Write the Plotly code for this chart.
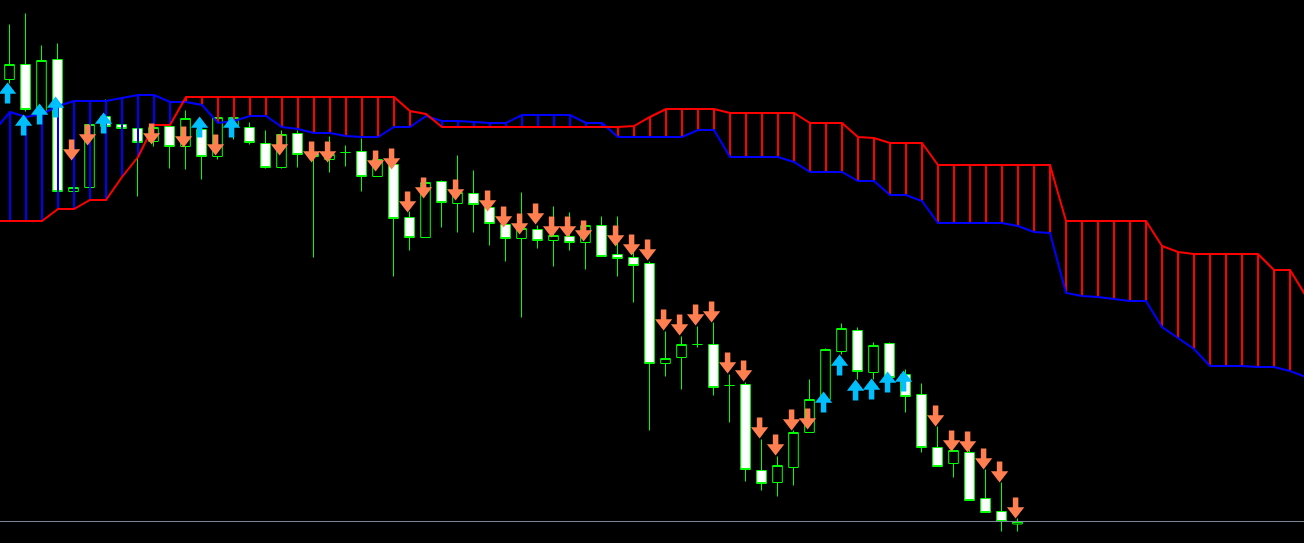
import plotly.graph_objects as go

# ---------------- data (price in points) ----------------
candle_idx = list(range(64))
open_ = [463, 478, 431, 483, 351, 355, 426, 418, 414, 401, 416, 396, 413, 386, 416, 415,
         399, 375, 409, 389, 383, 390, 391, 366, 378, 325, 305, 361, 339, 349, 335, 318,
         304, 313, 302, 306, 300, 317, 288, 285, 279, 179, 185, 198, 198, 157, 158, 72,
         60, 75, 110, 143, 191, 212, 170, 199, 168, 148, 95, 79, 90, 44, 31, 18.5]
high = [518, 529, 497, 499, 357, 419, 443, 418, 414, 416, 417, 432, 417, 427, 427, 420,
        412, 412, 412, 398, 406, 397, 404, 388, 383, 331, 364, 362, 387, 372, 336, 321,
        350, 317, 336, 330, 321, 326, 326, 293, 281, 211, 206, 216, 220, 168, 160, 103,
        86, 112, 163, 194, 219, 215, 200, 200, 173, 159, 116, 92, 93, 73, 60, 24]
low = [459, 431, 427, 350, 350, 354, 415, 414, 346, 396, 374, 373, 363, 383, 403, 398,
       374, 374, 375, 285, 370, 376, 351, 366, 266, 292, 305, 315, 310, 310, 297, 281,
       225, 294, 276, 292, 273, 286, 266, 240, 112, 166, 153, 195, 147, 120, 61, 52,
       46, 57, 110, 138, 188, 163, 163, 163, 130, 90, 76, 65, 42, 30, 11, 11]
close = [478, 433, 482, 351, 355, 418, 416, 414, 400, 415, 396, 424, 386, 425, 425, 400,
         375, 408, 388, 386, 388, 390, 366, 383, 324, 305, 360, 340, 350, 338, 319, 304,
         314, 302, 307, 300, 317, 286, 284, 277, 179, 184, 198, 198, 155, 157, 73, 59,
         77, 110, 143, 193, 214, 171, 197, 165, 146, 95, 76, 92, 42, 30, 21, 21]

# Ichimoku cloud spans (shifted 26 bars ahead)
cloud_idx = list(range(-1, 82))
span_red = [321, 321, 321, 321, 333, 333, 342, 342, 365, 385, 417, 417, 445,
            445, 445, 445, 445, 445, 445, 445, 445, 445, 445, 445, 445, 445,
            431, 428, 415,
            415, 415, 415, 415, 415, 415, 415, 415, 415, 415, 415,
            416, 425, 433, 433, 433, 433,
            429, 429, 429, 429, 429,
            419, 419, 419,
            405, 404, 399, 399, 399,
            377,
            377, 377, 377, 377, 377, 377, 377,
            321,
            321, 321, 321, 321, 321,
            296, 290, 288,
            288, 288, 288, 288,
            272, 272, 246]
span_blue = [411, 430, 425, 428, 436, 441, 441, 441, 444, 447, 447, 440, 440,
             437, 419, 421, 426, 426, 415, 413, 409, 409, 406, 405, 405, 415,
             415, 426, 421, 421, 420, 419, 419, 427, 427, 427, 427, 419, 419,
             405, 405, 405, 405, 405, 412, 412, 385, 385, 385, 385, 380, 370,
             370, 370, 361, 361, 347, 347, 341, 319, 319, 319, 319, 319, 316,
             310, 309, 249, 246, 245, 243, 241, 241, 215, 204, 193, 176, 176,
             176, 175, 175, 171, 165]

# Signal arrows (tip price)
sell_idx = [4, 5, 9, 11, 13, 17, 19, 20, 23, 24, 25, 26, 28, 30, 31, 32, 33, 34, 35, 36,
            38, 39, 40, 41, 42, 43, 44, 45, 46, 47, 48, 49, 50, 58, 59, 60, 61, 62, 63]
sell_tip = [382, 397, 398, 395, 387, 387, 380, 380, 371, 373, 330, 344, 342, 331, 315, 308,
            318, 305, 305, 301, 296, 287, 282, 212, 207, 217, 220, 169, 161, 104, 87, 112,
            113, 116, 91, 90, 73, 60, 24]
buy_idx = [0, 1, 2, 3, 6, 12, 14, 51, 52, 53, 54, 55, 56]
buy_tip = [460, 428, 439, 446, 430, 426, 426, 151, 188, 163, 164, 171, 172]

bid_price = 21

# ---------------- styling ----------------
GREEN = "#00FF00"
CORAL = "#FF7F50"
SKY = "#00BFFF"
ARROW_DX = -0.12
HEAD_OFF, SHAFT_OFF = 7.5, 14
LINE_DX, LINE_DY = 1 / 32, 0.5   # half-pixel nudges so 2px lines render crisply

fig = go.Figure()

fig.add_trace(go.Candlestick(
    x=candle_idx, open=open_, high=high, low=low, close=close,
    increasing=dict(line=dict(color=GREEN, width=1), fillcolor="black"),
    decreasing=dict(line=dict(color=GREEN, width=1), fillcolor="white"),
    hoverinfo="skip", showlegend=False))

# cloud hatch
hx_b, hy_b, hx_r, hy_r = [], [], [], []
for k, a, b in zip(cloud_idx, span_blue, span_red):
    xk = k + LINE_DX
    if a >= b:
        hx_b += [xk, xk, None]; hy_b += [a + LINE_DY, b + LINE_DY, None]
    else:
        hx_r += [xk, xk, None]; hy_r += [a + LINE_DY, b + LINE_DY, None]
fig.add_trace(go.Scatter(x=hx_b, y=hy_b, mode="lines", line=dict(color="#0000FF", width=2),
                         hoverinfo="skip", showlegend=False))
fig.add_trace(go.Scatter(x=hx_r, y=hy_r, mode="lines", line=dict(color="#FF0000", width=2),
                         hoverinfo="skip", showlegend=False))
cx = [k + LINE_DX for k in cloud_idx]
fig.add_trace(go.Scatter(x=cx, y=[v + LINE_DY for v in span_blue], mode="lines",
                         line=dict(color="#0000FF", width=2), hoverinfo="skip", showlegend=False))
fig.add_trace(go.Scatter(x=cx, y=[v + LINE_DY for v in span_red], mode="lines",
                         line=dict(color="#FF0000", width=2), hoverinfo="skip", showlegend=False))

# arrows
sx = [i + ARROW_DX for i in sell_idx]
bx = [i + ARROW_DX for i in buy_idx]
fig.add_trace(go.Scatter(x=sx, y=[t + SHAFT_OFF for t in sell_tip], mode="markers",
                         marker=dict(symbol="line-ns", size=10, line=dict(color=CORAL, width=5.5)),
                         hoverinfo="skip", showlegend=False))
fig.add_trace(go.Scatter(x=sx, y=[t + HEAD_OFF for t in sell_tip], mode="markers",
                         marker=dict(symbol="triangle-down", size=15, color=CORAL, line=dict(width=0)),
                         hoverinfo="skip", showlegend=False))
fig.add_trace(go.Scatter(x=bx, y=[t - SHAFT_OFF for t in buy_tip], mode="markers",
                         marker=dict(symbol="line-ns", size=10, line=dict(color=SKY, width=5.5)),
                         hoverinfo="skip", showlegend=False))
fig.add_trace(go.Scatter(x=bx, y=[t - HEAD_OFF for t in buy_tip], mode="markers",
                         marker=dict(symbol="triangle-up", size=15, color=SKY, line=dict(width=0)),
                         hoverinfo="skip", showlegend=False))

fig.add_shape(type="line", xref="paper", x0=0, x1=1, yref="y", y0=bid_price, y1=bid_price,
              line=dict(color="#778899", width=1))

fig.update_layout(
    width=1304, height=543, margin=dict(l=0, r=0, t=0, b=0),
    paper_bgcolor="black", plot_bgcolor="black",
    showlegend=False, hovermode=False, boxgap=0.4, boxgroupgap=0,
    xaxis=dict(range=[-0.59375, 80.90625], visible=False, rangeslider=dict(visible=False)),
    yaxis=dict(range=[-0.5, 542.5], visible=False),
)

fig.write_html("out.html", config={"displayModeBar": False},
               post_script="document.body.style.margin='0';document.body.style.background='black';")
